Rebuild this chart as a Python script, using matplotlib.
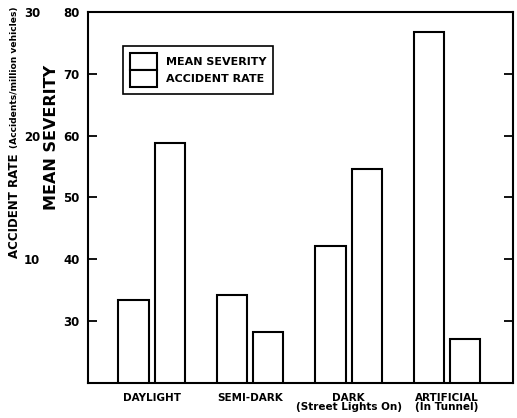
import matplotlib
matplotlib.use("Agg")
import matplotlib.pyplot as plt
from matplotlib.patches import Rectangle
import numpy as np

plt.rcParams['font.family'] = ['DejaVu Sans']
plt.rcParams['font.weight'] = 'bold'

categories = ["DAYLIGHT", "SEMI-DARK", "DARK\n(Street Lights On)", "ARTIFICIAL\n(In Tunnel)"]
mean_severity = [33.5, 34.3, 42.2, 76.8]
accident_rate = [19.4, 4.15, 17.3, 3.55]
severity_ticks = [30, 40, 50, 60, 70, 80]
rate_ticks = [10, 20, 30]

fig = plt.figure(figsize=(5.17, 4.18), dpi=100)
ax = fig.add_axes([88 / 517, 1 - 383 / 418, 425 / 517, 371 / 418])
ax2 = ax.twinx()

x = np.arange(len(categories))
w = 0.305
off = 0.183
ax.bar(x - off, mean_severity, width=w, bottom=0, facecolor="white",
       edgecolor="black", linewidth=1.5, label="MEAN SEVERITY")
ax2.bar(x + off, accident_rate, width=w, facecolor="white",
        edgecolor="black", linewidth=1.5, label="ACCIDENT RATE")

ax.set_xlim(-0.645, 3.67)
ax.set_ylim(20, 80)
ax2.set_ylim(0, 30)

ax.set_xticks(x)
ax.set_xticklabels(categories, fontsize=7.5, fontweight="bold", linespacing=0.95)
ax.tick_params(axis="x", length=0, pad=7)

ax.set_yticks(severity_ticks)
ax.tick_params(axis="y", direction="in", length=6.5, width=1.3, labelsize=8.5,
               pad=6, right=True)
for t in ax.get_yticklabels():
    t.set_fontweight("bold")

# outer accident-rate scale on the left
ax2.yaxis.set_ticks_position("left")
ax2.spines["left"].set_position(("outward", 31))
for side in ["left", "right", "top", "bottom"]:
    ax2.spines[side].set_visible(False)
ax2.set_yticks(rate_ticks)
ax2.tick_params(axis="y", length=0, pad=3.5, labelsize=8.5)
for t in ax2.get_yticklabels():
    t.set_fontweight("bold")

for s in ax.spines.values():
    s.set_linewidth(1.5)

# outer axis title: bigger main part, smaller unit part above it
renderer = fig.canvas.get_renderer()
t1 = fig.text(15 / 517, 1 - 258 / 418, "ACCIDENT RATE",
              rotation=90, ha="center", va="bottom", fontsize=8.5, fontweight="bold")
bb = t1.get_window_extent(renderer)
fig.text(15 / 517, (bb.y1 + 5) / 418, "(Accidents/million vehicles)",
         rotation=90, ha="center", va="bottom", fontsize=6.6, fontweight="bold")
fig.text(52 / 517, 1 - 137 / 418, "MEAN SEVERITY",
         rotation=90, ha="center", va="center", fontsize=11.5, fontweight="bold")

handles = [Rectangle((0, 0), 1, 1, facecolor="white", edgecolor="black", linewidth=1.5),
           Rectangle((0, 0), 1, 1, facecolor="white", edgecolor="black", linewidth=1.5)]
leg = ax2.legend(handles, ["MEAN SEVERITY", "ACCIDENT RATE"],
                 loc="upper left", bbox_to_anchor=(0.082, 0.908),
                 borderaxespad=0, fancybox=False, edgecolor="black",
                 prop={"size": 8, "weight": "bold"}, handlelength=2.5,
                 handleheight=2.0, labelspacing=0, handletextpad=0.8,
                 borderpad=0.6, framealpha=1)
leg.get_frame().set_linewidth(1.2)

fig.savefig("out.png", dpi=100)
